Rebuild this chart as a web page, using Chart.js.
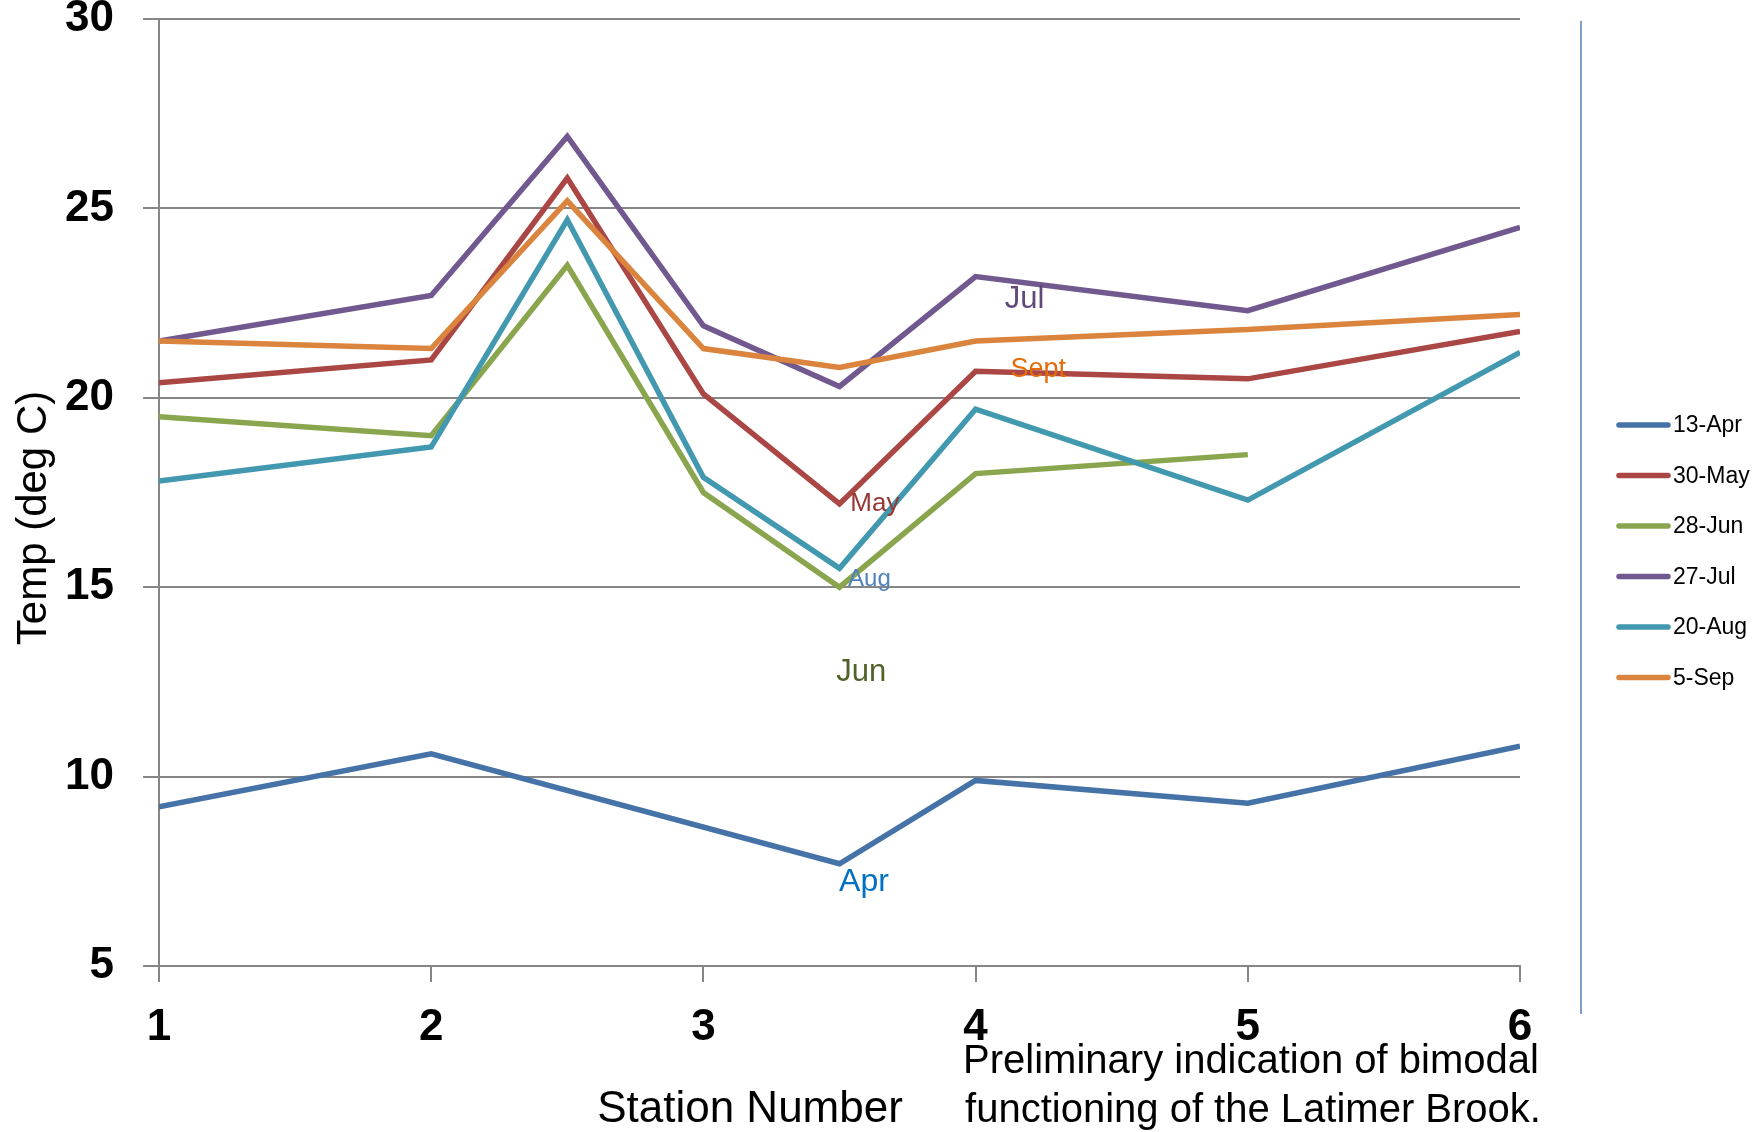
<!DOCTYPE html>
<html>
<head>
<meta charset="utf-8">
<script src="https://cdn.jsdelivr.net/npm/chart.js@4.4.0/dist/chart.umd.min.js"></script>
<style>
  html, body { margin: 0; padding: 0; background: #fff; }
  #wrap { width: 1757px; height: 1132px; }
</style>
</head>
<body>
<div id="wrap"><canvas id="chart_temp" width="1757" height="1132"></canvas></div>
<script>
(function() {
    "use strict"

    // station positions (x) and the temperature series (deg C)
    var stations = [1, 2, 2.5, 3, 3.5, 4, 5, 6];
    var seriesNames = ['13-Apr', '30-May', '28-Jun', '27-Jul', '20-Aug', '5-Sep'];
    var apr = [9.2, 10.6, null, null, 7.7, 9.9, 9.3, 10.8];
    var may = [20.4, 21.0, 25.8, 20.1, 17.2, 20.7, 20.5, 21.75];
    var jun = [19.5, 19.0, 23.5, 17.5, 15.0, 18.0, 18.5, null];
    var jul = [21.5, 22.7, 26.9, 21.9, 20.3, 23.2, 22.3, 24.5];
    var aug = [17.8, 18.7, 24.7, 17.9, 15.5, 19.7, 17.3, 21.2];
    var sep = [21.5, 21.3, 25.2, 21.3, 20.8, 21.5, 21.8, 22.2];
    var xTicks = [1, 2, 3, 4, 5, 6];
    var yTicks = [5, 10, 15, 20, 25, 30];

    var colors = ['#4572A7', '#AA4643', '#89A54E', '#71588F', '#4198AF', '#DB843D'];
    var allSeries = [apr, may, jun, jul, aug, sep];

    // month labels written next to the lines
    var notes = [
        {text: 'Jul',  x: 4.18, y: 22.6, size: 31, color: '#60497A'},
        {text: 'Sept', x: 4.23, y: 20.75, size: 27, color: '#E46C0A'},
        {text: 'May',  x: 3.63, y: 17.2, size: 26, color: '#953735'},
        {text: 'Aug',  x: 3.61, y: 15.2, size: 24, color: '#4F81BD'},
        {text: 'Jun',  x: 3.58, y: 12.75, size: 31, color: '#4F6228'},
        {text: 'Apr',  x: 3.59, y: 7.2, size: 32, color: '#0070C0'}
    ];

    var FONT = '"Liberation Sans", Arial, sans-serif';

    function points(arr) {
        return stations.map(function(s, i) { return {x: s, y: arr[i]}; })
                       .filter(function(p) { return p.y !== null; });
    }

    var datasets = allSeries.map(function(arr, i) {
        return {
            label: seriesNames[i],
            data: points(arr),
            borderColor: colors[i],
            backgroundColor: colors[i],
            borderWidth: 5.5,
            pointRadius: 0,
            fill: false,
            tension: 0,
            order: allSeries.length - i
        };
    });

    var extras = {
        id: 'extras',
        afterDraw: function(chart) {
            var ctx = chart.ctx;
            var xs = chart.scales.x, ys = chart.scales.y;
            ctx.save();

            // axis titles
            ctx.fillStyle = '#000';
            ctx.textAlign = 'center';
            ctx.textBaseline = 'middle';
            ctx.font = 'normal 44px ' + FONT;
            ctx.fillText('Station Number', 750, 1110);

            ctx.save();
            ctx.translate(34, 518);
            ctx.rotate(-Math.PI / 2);
            ctx.font = 'normal 42px ' + FONT;
            ctx.fillText('Temp (deg C)', 0, 0);
            ctx.restore();

            // note under the chart
            ctx.font = 'normal 40px ' + FONT;
            ctx.fillText('Preliminary indication of bimodal', 1251, 1062);
            ctx.fillText('functioning of the Latimer Brook.', 1253, 1111);

            // month labels
            notes.forEach(function(n) {
                ctx.font = 'normal ' + n.size + 'px ' + FONT;
                ctx.fillStyle = n.color;
                ctx.fillText(n.text, xs.getPixelForValue(n.x), ys.getPixelForValue(n.y));
            });

            // vertical rule left of legend
            ctx.strokeStyle = '#4F81BD';
            ctx.lineWidth = 1.5;
            ctx.beginPath();
            ctx.moveTo(1581, 21);
            ctx.lineTo(1581, 1014);
            ctx.stroke();

            // legend
            ctx.textAlign = 'left';
            ctx.font = 'normal 23px ' + FONT;
            chart.data.datasets.forEach(function(ds, i) {
                var y = 425 + i * 50.5;
                ctx.strokeStyle = ds.borderColor;
                ctx.lineWidth = 5.5;
                ctx.lineCap = 'round';
                ctx.beginPath();
                ctx.moveTo(1619, y);
                ctx.lineTo(1668, y);
                ctx.stroke();
                ctx.fillStyle = '#000';
                ctx.fillText(ds.label, 1673, y + 1);
            });
            ctx.restore();
        }
    };

    var ctx = document.getElementById('chart_temp').getContext('2d');

    new Chart(ctx, {
        type: 'line',
        data: {datasets: datasets},
        options: {
            responsive: false,
            animation: false,
            layout: {padding: {top: 19, right: 237, left: 0, bottom: 0}},
            plugins: {legend: {display: false}, tooltip: {enabled: false}},
            scales: {
                x: {
                    type: 'linear',
                    min: 1, max: 6,
                    afterBuildTicks: function(s) { s.ticks = xTicks.map(function(v) { return {value: v}; }); },
                    afterFit: function(s) { s.height = 166; s.paddingLeft = 0; s.paddingRight = 0; },
                    grid: {drawOnChartArea: false, drawTicks: true, tickLength: 16, color: '#868686', lineWidth: 2},
                    border: {display: true, color: '#868686', width: 2},
                    ticks: {color: '#000', padding: 19, maxRotation: 0, font: {family: FONT, size: 44, weight: 'bold'}}
                },
                y: {
                    min: 5, max: 30,
                    afterBuildTicks: function(s) { s.ticks = yTicks.map(function(v) { return {value: v}; }); },
                    afterFit: function(s) { s.width = 159; s.paddingTop = 0; s.paddingBottom = 0; },
                    grid: {drawTicks: true, tickLength: 16, color: '#868686', lineWidth: 2},
                    border: {display: true, color: '#868686', width: 2},
                    ticks: {color: '#000', padding: 29, font: {family: FONT, size: 44, weight: 'bold'}}
                }
            }
        },
        plugins: [extras]
    });

})();
</script>
</body>
</html>
